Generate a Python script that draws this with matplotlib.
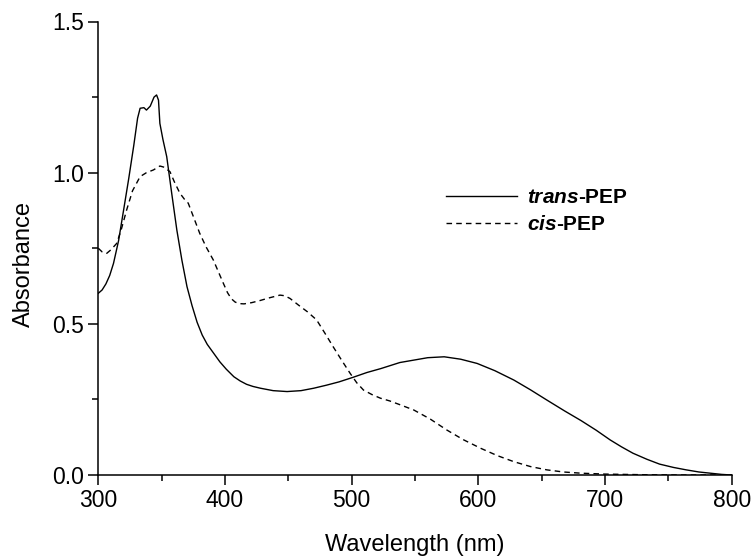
import matplotlib
matplotlib.use("Agg")
import matplotlib.pyplot as plt
from matplotlib.ticker import MultipleLocator, FixedLocator, FixedFormatter

plt.rcParams['font.family'] = ['Liberation Sans', 'DejaVu Sans']
plt.rcParams['mathtext.fontset'] = 'custom'
plt.rcParams['mathtext.bfit'] = 'Liberation Sans:italic:bold'
plt.rcParams['mathtext.it'] = 'Liberation Sans:italic'
plt.rcParams['mathtext.bf'] = 'Liberation Sans:bold'
plt.rcParams['mathtext.rm'] = 'Liberation Sans'

trans_x = [300, 303, 306, 309, 312, 316, 320, 324, 328, 331, 333, 336, 338, 341, 344, 346,
           347.5, 348.6, 351, 354, 358, 362, 366, 370, 374, 378, 382, 386, 391, 396, 401,
           407, 412, 417, 422, 428, 438, 449, 460, 470, 480, 490, 501, 512, 523, 538, 549,
           560, 573, 586, 599, 613, 628, 641, 654, 668, 681, 693, 704, 713, 722, 733, 743,
           754, 764, 774, 783, 792, 800]
trans_y = [0.601, 0.612, 0.632, 0.66, 0.70, 0.775, 0.877, 0.98, 1.09, 1.18, 1.213, 1.215,
           1.207, 1.22, 1.25, 1.257, 1.24, 1.163, 1.11, 1.053, 0.93, 0.81, 0.71, 0.623,
           0.56, 0.505, 0.463, 0.432, 0.403, 0.374, 0.35, 0.325, 0.311, 0.300, 0.293,
           0.287, 0.279, 0.276, 0.279, 0.287, 0.297, 0.308, 0.323, 0.339, 0.352, 0.372,
           0.38, 0.388, 0.391, 0.383, 0.369, 0.345, 0.314, 0.282, 0.248, 0.212, 0.18,
           0.148, 0.116, 0.093, 0.072, 0.052, 0.036, 0.025, 0.017, 0.010, 0.006, 0.002,
           0.0]

cis_x = [300, 303, 306.6, 310, 314.5, 318, 322.4, 327, 333, 338, 343.5, 348.6, 352,
         356.6, 360, 364.4, 368, 371, 375, 380, 385, 390.8, 395, 398.7, 402, 405, 408,
         411, 415, 421, 427.6, 435, 443.4, 447, 451.3, 458, 465, 472.3, 479, 485.4, 492,
         498.8, 504, 509.3, 516, 522.7, 530, 538.4, 549, 562, 575, 588, 602, 615, 628,
         641, 654, 667, 681, 700, 730, 760, 800]
cis_y = [0.75, 0.738, 0.733, 0.745, 0.766, 0.81, 0.877, 0.94, 0.987, 1.0, 1.009, 1.022,
         1.018, 1.003, 0.97, 0.932, 0.912, 0.899, 0.855, 0.8, 0.755, 0.711, 0.67, 0.634,
         0.603, 0.583, 0.572, 0.567, 0.566, 0.57, 0.577, 0.586, 0.595, 0.593, 0.584,
         0.562, 0.54, 0.513, 0.468, 0.424, 0.38, 0.336, 0.305, 0.281, 0.266, 0.254,
         0.245, 0.232, 0.215, 0.185, 0.149, 0.117, 0.088, 0.064, 0.044, 0.028, 0.017,
         0.010, 0.006, 0.003, 0.001, 0.0, 0.0]

labels = [r'$\mathbfit{trans}$-PEP', r'$\mathbfit{cis}$-PEP']
yticks = [0.0, 0.5, 1.0, 1.5]
ytick_labels = ['0.0', '0.5', '1.0', '1.5']
xticks = [300, 400, 500, 600, 700, 800]

fig = plt.figure(figsize=(7.52, 5.56), dpi=100)
ax = fig.add_axes([98.3 / 752, (556 - 475) / 556, 633.5 / 752, 453.5 / 556])

ax.plot(trans_x, trans_y, color='black', lw=1.0, label=labels[0])
ax.plot(cis_x, cis_y, color='black', lw=1.0, linestyle=(0, (4, 3)), label=labels[1])

ax.set_xlim(300, 800)
ax.set_ylim(0, 1.5)
ax.xaxis.set_major_locator(FixedLocator(xticks))
ax.xaxis.set_minor_locator(MultipleLocator(50))
ax.yaxis.set_major_locator(FixedLocator(yticks))
ax.yaxis.set_major_formatter(FixedFormatter(ytick_labels))
ax.yaxis.set_minor_locator(MultipleLocator(0.25))

for s in ['top', 'right']:
    ax.spines[s].set_visible(False)
for s in ['left', 'bottom']:
    ax.spines[s].set_linewidth(1.1)
ax.tick_params(which='major', direction='out', length=7, width=1.1, labelsize=16.5, pad=3)
ax.tick_params(which='minor', direction='out', length=4, width=1.1)

ax.set_xlabel('Wavelength (nm)', fontsize=17, labelpad=16)
ax.set_ylabel('Absorbance', fontsize=17, labelpad=13)
ax.yaxis.label.set_y(0.466)

leg = ax.legend(loc='upper left', bbox_to_anchor=(0.549, 0.632), frameon=False,
                prop={'size': 15, 'weight': 'bold'}, handlelength=3.4,
                handletextpad=0.5, labelspacing=0.38, borderpad=0, borderaxespad=0)

fig.savefig('out.png', dpi=100)
